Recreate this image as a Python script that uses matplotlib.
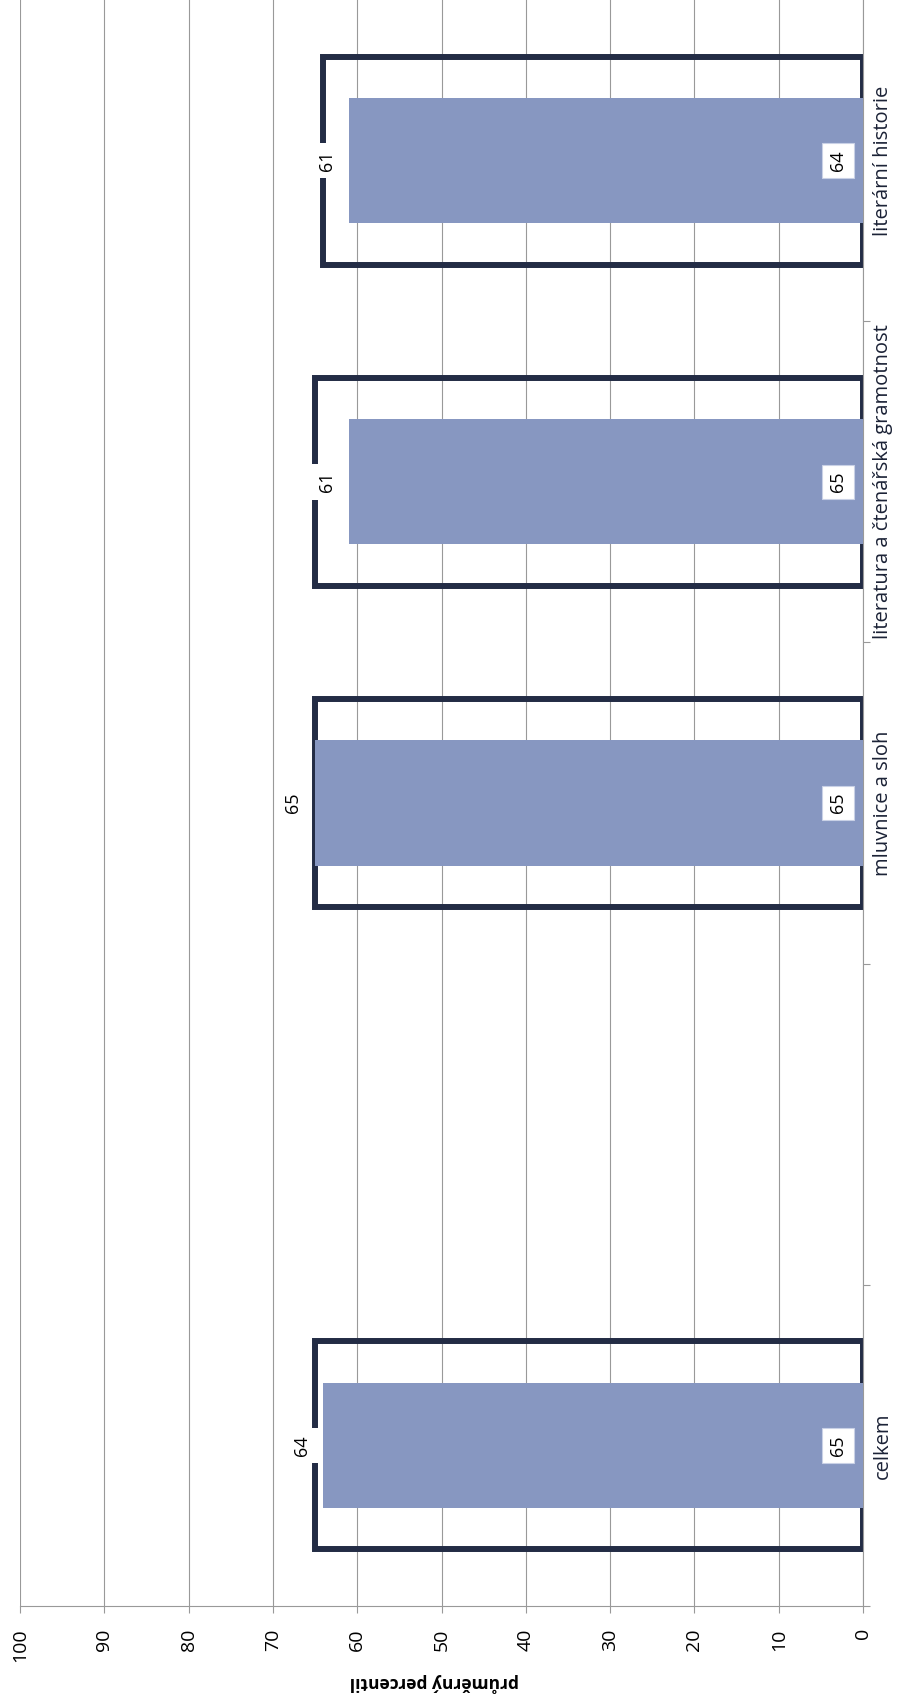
import numpy as np
import matplotlib
matplotlib.use("Agg")
import matplotlib.pyplot as plt

plt.rcParams['font.family'] = ['Open Sans', 'DejaVu Sans']

# data (the chart is drawn turned on its side, values run right -> left)
kategorie = ["celkem", "", "mluvnice a sloh", "literatura a čtenářská gramotnost", "literární historie"]
ramecek = [65, np.nan, 65, 65, 64]     # outline series
sloupec = [64, np.nan, 65, 61, 61]     # filled series
osa_ticks = [0, 10, 20, 30, 40, 50, 60, 70, 80, 90, 100]
osa_nazev = "průměrný percentil"

tmava = "#232c45"
modra = "#8797c1"
seda = "#999999"

fig = plt.figure(figsize=(9.02, 17.02), dpi=100)
ax = fig.add_axes([20 / 902, 96 / 1702, 843 / 902, 1606 / 1702])

y = np.arange(len(kategorie))

ax.barh(y, ramecek, height=0.647, fill=False, edgecolor=tmava, linewidth=4.3, zorder=2)
ax.barh(y, sloupec, height=0.39, color=modra, linewidth=0, zorder=3)

for i in range(len(kategorie)):
    if np.isnan(sloupec[i]):
        continue
    # value of filled series just beyond its end
    ax.text(sloupec[i] + 2.6, y[i], "%d" % sloupec[i], rotation=90, ha="center", va="center",
            fontsize=13, color="black", zorder=5,
            bbox=dict(boxstyle="square,pad=0.42", fc="white", ec="none"))
    # value of outline series near the base
    ax.text(3.0, y[i], "%d" % ramecek[i], rotation=90, ha="center", va="center",
            fontsize=13, color="black", zorder=5,
            bbox=dict(boxstyle="square,pad=0.38", fc="white", ec="#c9d1e6", lw=0.8))

ax.set_xlim(100, 0)
ax.set_ylim(-0.5, len(kategorie) - 0.5)

ax.set_xticks(osa_ticks)
ax.set_xticklabels([str(t) for t in osa_ticks], rotation=90, fontsize=14)
ax.tick_params(axis="x", direction="out", length=5, width=0.8, color=seda, pad=11)
ax.xaxis.grid(True, color=seda, linewidth=0.8, zorder=0)
ax.set_axisbelow(True)

ax.yaxis.tick_right()
ax.set_yticks(y)
ax.set_yticklabels(kategorie, rotation=90, va="center", fontsize=14.5, color="#1b2236")
ax.set_yticks(np.arange(len(kategorie)) - 0.5, minor=True)
ax.tick_params(axis="y", which="major", length=0, pad=7)
ax.tick_params(axis="y", which="minor", direction="out", length=5, width=0.8, color=seda)

for s in ["left", "top"]:
    ax.spines[s].set_visible(False)
for s in ["right", "bottom"]:
    ax.spines[s].set_color(seda)
    ax.spines[s].set_linewidth(0.8)

ax.annotate(osa_nazev, xy=(0.5, 0), xycoords="axes fraction", xytext=(-5, -55),
            textcoords="offset points", rotation=180, ha="center", va="center",
            fontsize=12.5, fontweight="bold", color="black")

fig.savefig("out.png", dpi=100)
